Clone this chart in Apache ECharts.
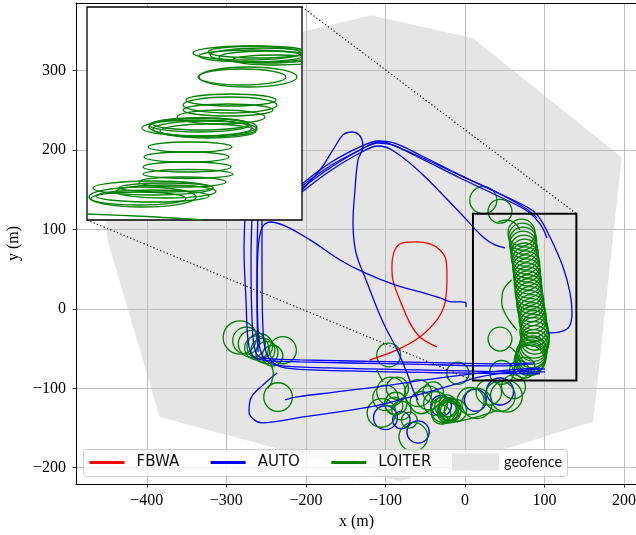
<!DOCTYPE html>
<html><head><meta charset="utf-8">
<script src="https://cdn.jsdelivr.net/npm/echarts@6/dist/echarts.min.js"></script>
<style>html,body{margin:0;padding:0;background:#fff}#c{width:636px;height:535px}</style>
</head><body><div id="c"></div><script>
// ---------- data ----------
const xTicks = [-400, -300, -200, -100, 0, 100, 200];
const yTicks = [-200, -100, 0, 100, 200, 300];
const xRange = [-489, 216.2];
const yRange = [-220.5, 385.3];
const geofence = [[-118,370],[10,341],[197,191],[161,-142],[-82,-217],[-384,-136],[-450,89],[-460,288]];
const zoomRect = [10, -90, 140, 120]; // x0, y0, x1, y1
const fbwa = [[-119.6,-64.2],[-85.6,-51.6],[-56.7,-35.3],[-35.3,-13.9],[-25.2,7.6],[-22.7,40.3],[-23.9,61.7],[-31.5,74.3],[-44.1,81.9],[-60.5,84.4],[-78.1,83.1],[-88.2,74.3],[-91.9,52.9],[-90.7,36.5],[-81.9,11.3],[-69.3,-17.6],[-56.7,-35.3],[-35.3,-47.9]];
const autoA1 = [[-260.2,-54.1],[-261.5,11.3],[-260.2,74.3],[-255.2,102],[-245.1,109.5],[-226.3,104.5],[-194.8,86.9],[-157.1,61.7],[-125.7,45.3],[-88,30.2],[-56.6,21.4],[-31.4,13.8],[-16.3,8.8],[-3.8,8.8],[1.3,7.6],[1.3,2.5]];
const autoV1 = [[-276.5,118.3],[-277.8,74.3],[-275.3,11.3],[-272.8,-39],[-267.7,-57.9],[-255.2,-64.2],[-207.4,-66.7],[-81.7,-69.2],[44,-71.8],[81.7,-69.2]];
const autoV2 = [[-267.7,118.3],[-269,61.7],[-267.7,-13.8],[-264,-51.6],[-255.2,-61.7],[-207.4,-64.2],[-81.7,-66.7],[44,-69.2],[88,-68]];
const autoV3 = [[-260.2,118.3],[-261.5,61.7],[-260.2,-26.4],[-255.2,-57.9],[-238.8,-70.5],[-169.7,-74.3],[-56.6,-76.8],[69.1,-79.3],[100.6,-79.3]];
const autoV4 = [[-255.2,118.3],[-255.2,49.1],[-253.9,-26.4],[-247.6,-60.4],[-226.3,-74.3],[-144.6,-78.1],[-18.9,-80.6],[94.3,-81.8]];
const autoL1 = [[-236.3,-80.6],[-255.2,-96.9],[-269,-112],[-271.5,-129.7],[-255.2,-143.5],[-203.6,-136],[-119.4,-123.4],[-72.9,-112],[-15.1,-95.7],[18.9,-85.6],[69.1,-78.1],[100.6,-75.5]];
const autoL2 = [[-226.3,-114.6],[-211.2,-110.8],[-160.9,-104.5],[-110.6,-98.2],[-31.4,-86.9],[44,-78.1],[94.3,-74.3]];
const autoT1 = [[-204.9,149.8],[-182.3,175],[-166,200.2],[-153.4,219.1],[-142,222.8],[-132,217.8],[-128.2,204],[-134.5,187.6],[-138.3,149.8],[-140.8,109.5],[-137,70.5],[-124.4,36.5],[-104.3,-13.9],[-84.2,-54.1],[-72.9,-80.6],[-65.4,-102],[-59.1,-114.6]];
const autoT2 = [[-204.9,154.9],[-169.7,180],[-132,200.2],[-109.4,209],[-91.8,206.5],[-56.6,190.1],[-6.3,164.9],[44,141],[77.9,123.4],[94.3,107],[103.1,89.4]];
const autoT2b = [[-204.9,157.4],[-169.7,183.8],[-132,204],[-109.4,211.5],[-89.3,209],[-56.6,193.9],[-6.3,168.7],[44,144.8],[75.4,127.2],[90.5,114.6]];
const autoT3 = [[-204.9,147.3],[-169.7,173.7],[-132,196.4],[-109.4,205.2],[-91.8,200.2],[-56.6,172.5],[-2.5,117.1],[22.6,90.6],[37.7,80.6],[50.3,76.8]];
const autoT4 = [[-204.9,152.3],[-169.7,177.5],[-132,200.2],[-106.8,210.3],[-81.7,202.7],[6.3,162.4],[77.9,128.4],[91.8,117.1],[106.8,90.6],[123.2,52.9],[132,20.1],[134.5,-5],[130.7,-22.7],[119.4,-29],[104.3,-30.2]];
const autoLoops = [[-100,-137,15],[-59,-155,14],[-30,-122,13],[13,-115,14],[44,-104,17],[-80,-140,11]];
const loiterS1 = [[-246,-66],[-241,-80],[-243,-92],[-248,-100]];
const loiterS2 = [[-111,-77],[-103,-92]];
const loiterS3 = [[58.7,36.5],[48.2,23.9],[46.1,7.6],[52.4,-9.4],[65,-26.4]];
const loiterS4 = [[55,-47],[65,-56],[71,-72]];
const loiterS5 = [[41.9,109.9],[52.4,112],[62.9,107.9],[69.1,99.5]];
const loiterS6 = [[-30,-145],[-10,-142],[15,-136],[40,-128]];
const loiterLoops = [
  [-283,-36,21],[-275,-40,17],[-268,-44,17],[-262,-49,15],[-258,-47,16],[-254,-52,15],[-229,-52,17],[-242,-59,13],[-249,-55,14],[-235,-111,18],
  [-96,-58,15],
  [-93,-104,18],[-100,-112,16],[-105,-131,18],[-87,-119,14],[-89,-122,11],[-80,-128,12],[-85,-100,14],[-65,-161,18],[-70,-140,10],
  [-59,-106,17],[-55,-118,14],[-46,-112,15],[-40,-105,13],[-37,-119,15],[-30,-133,12],
  [-27,-127,16],[-24,-122,14],[-21,-128,13],[-19,-126,14],[-22,-130,13],[-20,-124,12],[-18,-129,13],[-12,-128,14],
  [-9,-81,14],[7,-116,17],[15,-119,19],[30,-105,16],
  [44,-110,19],[52,-110,20],[61,-98,15],[46,-80,15],[68,-77,12],[75,-74,13],
  [23,137,17],[44,123,15],[44,-38,15],
  [71,96,17],[72,91,17],[73,86,17],[73,81,17],[74,76,17],[75,71,17],[75,66,17],[76,61,17],[77,56,17],[77,51,17],
  [78,46,17],[78,41,17],[79,36,17],[79,31,17],[80,26,17],[80,21,17],[81,16,17],[82,11,17],[82,6,17],[83,1,17],
  [84,-4,17],[85,-9,17],[85,-14,17],[86,-19,17],[87,-24,17],[87,-29,18],[88,-34,18],[88,-39,18],[87,-44,18],
  [86,-48,18],[85,-52,18],[84,-55,19],[83,-58,19],[83,-61,19],[82,-63,19],[81,-65,19]
];
// inset (own unit space) ellipses: cx, cy, rx, ry
const insetLoops = [
  [160,167,54,7],[164,164,52,6],[171,168,50,6],[180,163,48,6],[190,160,45,5],[176,165,53,7],
  [161,143,49,10],[155,143,44,8],
  [144,120,45,6],[141,110,45,6],[143,115,47,8],[134,103,44,7],
  [116,93,54,9],[118,91,52,8],[112,95,50,7],[121,89,48,7],[110,92,55,8],[114,96,48,6],
  [103,73,42,5],[99.5,63,42.5,5],[100,53,44,5],[101,46,45,4.5],[95.5,38,43.5,5],
  [66,32,60,7],[55.5,23,53.5,10],[79,28.5,50,6.5],[65.5,24,56.5,6],[51.5,21.5,47.5,6.5],[79,32.5,47,4.5]
];
const insetTrail = [[0,6],[60,3.5],[116,0]];

// ---------- layout ----------
const mainGrid = {left: 76, top: 3, right: -1, bottom: 51};
const insetBox = {left: 87, top: 7, width: 215, height: 213};
const RED = '#ff0000', BLUE = '#0000ff', GREEN = '#008000', FENCE = '#e5e5e5';
const LW = 1.3;
const fmt = v => (v < 0 ? '\u2212' + (-v) : '' + v);
const serif = 'Liberation Serif';

function lineSeries(name, data, color) {
  return {type: 'line', name, data, xAxisIndex: 0, yAxisIndex: 0, smooth: 0.35, showSymbol: false,
    symbol: 'none', lineStyle: {color, width: LW}, itemStyle: {color}, z: 5, silent: true, clip: true};
}
function loopSeries(name, data, color, z) {
  return {type: 'custom', name, data, xAxisIndex: 0, yAxisIndex: 0, coordinateSystem: 'cartesian2d',
    clip: true, z, silent: true, itemStyle: {color}, encode: {x: 0, y: 1},
    renderItem(params, api) {
      const c = api.coord([api.value(0), api.value(1)]);
      const s = api.size([api.value(2), api.value(2)]);
      return {type: 'circle', shape: {cx: c[0], cy: c[1], r: s[0]},
        style: {fill: 'none', stroke: color, lineWidth: LW}};
    }};
}

const autoPaths = [autoA1, autoV1, autoV2, autoV3, autoV4, autoL1, autoL2, autoT1, autoT2, autoT2b, autoT3, autoT4];
const loiterPaths = [loiterS1, loiterS2, loiterS3, loiterS4, loiterS5, loiterS6];

const series = [];
series.push({type: 'custom', name: 'geofence', data: geofence, xAxisIndex: 0, yAxisIndex: 0,
  coordinateSystem: 'cartesian2d', clip: true, z: 1, silent: true, itemStyle: {color: FENCE}, encode: {x: 0, y: 1},
  renderItem(params, api) {
    if (params.dataIndex !== 0) return null;
    const pts = geofence.map(p => api.coord(p));
    return {type: 'polygon', shape: {points: pts}, style: {fill: FENCE, stroke: 'none'}};
  }});
series.push(lineSeries('FBWA', fbwa, RED));
autoPaths.forEach(p => series.push(lineSeries('AUTO', p, BLUE)));
loiterPaths.forEach(p => series.push(lineSeries('LOITER', p, GREEN)));
series.push(loopSeries('AUTO', autoLoops, BLUE, 5));
series.push(loopSeries('LOITER', loiterLoops, GREEN, 5));
series.push({type: 'custom', name: 'zoom', data: [zoomRect], xAxisIndex: 0, yAxisIndex: 0,
  coordinateSystem: 'cartesian2d', z: 6, silent: true, encode: {x: [0, 2], y: [1, 3]},
  renderItem(params, api) {
    const a = api.coord([api.value(0), api.value(1)]);
    const b = api.coord([api.value(2), api.value(3)]);
    return {type: 'rect', shape: {x: Math.min(a[0], b[0]), y: Math.min(a[1], b[1]),
      width: Math.abs(b[0] - a[0]), height: Math.abs(b[1] - a[1])},
      style: {fill: 'none', stroke: '#000', lineWidth: 2}};
  }});
series.push({type: 'custom', name: 'LOITER', data: insetLoops, xAxisIndex: 1, yAxisIndex: 1,
  coordinateSystem: 'cartesian2d', clip: true, z: 11, silent: true, itemStyle: {color: GREEN}, encode: {x: 0, y: 1},
  renderItem(params, api) {
    const c = api.coord([api.value(0), api.value(1)]);
    const s = api.size([api.value(2), api.value(3)]);
    return {type: 'ellipse', shape: {cx: c[0], cy: c[1], rx: s[0], ry: s[1]},
      style: {fill: 'none', stroke: GREEN, lineWidth: LW}};
  }});
series.push({type: 'line', name: 'LOITER', data: insetTrail, xAxisIndex: 1, yAxisIndex: 1, smooth: 0.3,
  showSymbol: false, symbol: 'none', lineStyle: {color: GREEN, width: LW}, z: 11, silent: true, clip: true});

const chart = echarts.init(document.getElementById('c'), null, {renderer: 'canvas'});
const option = {
  animation: false,
  backgroundColor: '#fff',
  grid: [
    Object.assign({show: false, containLabel: false, outerBoundsMode: 'none'}, mainGrid),
    Object.assign({show: true, borderColor: '#000', borderWidth: 1.3, backgroundColor: '#fff', z: 10,
      containLabel: false, outerBoundsMode: 'none'}, insetBox)
  ],
  xAxis: [
    {type: 'value', gridIndex: 0, min: xRange[0], max: xRange[1], z: 3,
      name: 'x (m)', nameLocation: 'middle', nameGap: 21,
      nameTextStyle: {fontFamily: serif, fontSize: 16, color: '#000'},
      axisLine: {show: true, onZero: false, lineStyle: {color: '#000', width: 1}},
      axisTick: {show: true, length: 3.5, lineStyle: {color: '#000', width: 0.8}, customValues: xTicks},
      axisLabel: {customValues: xTicks, formatter: fmt, fontFamily: serif, fontSize: 16, color: '#000', margin: 9},
      splitLine: {show: true, lineStyle: {color: '#bdbdbd', width: 1}}},
    {type: 'value', gridIndex: 1, min: 0, max: insetBox.width, show: false},
    {type: 'value', gridIndex: 0, position: 'top', min: xRange[0], max: xRange[1], z: 3,
      axisLine: {show: true, onZero: false, lineStyle: {color: '#000', width: 1}},
      axisTick: {show: false}, axisLabel: {show: false}, splitLine: {show: false}}
  ],
  yAxis: [
    {type: 'value', gridIndex: 0, min: yRange[0], max: yRange[1], z: 3,
      name: 'y (m)', nameLocation: 'middle', nameGap: 53, nameRotate: 90,
      nameTextStyle: {fontFamily: serif, fontSize: 16, color: '#000'},
      axisLine: {show: true, onZero: false, lineStyle: {color: '#000', width: 1}},
      axisTick: {show: true, length: 3.5, lineStyle: {color: '#000', width: 0.8}, customValues: yTicks},
      axisLabel: {customValues: yTicks, formatter: fmt, fontFamily: serif, fontSize: 16, color: '#000', margin: 10},
      splitLine: {show: true, lineStyle: {color: '#bdbdbd', width: 1}}},
    {type: 'value', gridIndex: 1, min: 0, max: insetBox.height, show: false}
  ],
  legend: [
    {data: [{name: 'FBWA'}, {name: 'AUTO'}, {name: 'LOITER'}], left: 88, top: 453.5, padding: 0,
      itemWidth: 35, itemHeight: 3, itemGap: 30, z: 60, selectedMode: false,
      lineStyle: {width: 3}, itemStyle: {opacity: 0},
      textStyle: {fontFamily: 'DejaVu Sans', fontSize: 15, color: '#111', padding: [0, 0, 0, 7], lineHeight: 18}},
    {data: [{name: 'geofence', icon: 'rect'}], left: 452, top: 453.5, padding: 0,
      itemWidth: 47, itemHeight: 17, z: 60, selectedMode: false,
      textStyle: {fontFamily: 'Lato', fontSize: 14.5, color: '#111', lineHeight: 17}}
  ],
  graphic: [
    {type: 'rect', id: 'legendFrame', shape: {x: 83.5, y: 449.5, width: 484, height: 27, r: 3},
      style: {fill: 'rgba(255,255,255,0.8)', stroke: '#cccccc', lineWidth: 1}, z: 50, silent: true}
  ],
  series
};
chart.setOption(option);

// dotted connectors from inset corners to the zoom rectangle corners
const tr = chart.convertToPixel({xAxisIndex: 0, yAxisIndex: 0}, [zoomRect[2], zoomRect[3]]);
const bl = chart.convertToPixel({xAxisIndex: 0, yAxisIndex: 0}, [zoomRect[0], zoomRect[1]]);
const insetTR = [insetBox.left + insetBox.width, insetBox.top];
const insetBL = [insetBox.left, insetBox.top + insetBox.height];
chart.setOption({graphic: [
  {type: 'line', id: 'c1', shape: {x1: insetTR[0], y1: insetTR[1], x2: tr[0], y2: tr[1]},
    style: {stroke: '#000', lineWidth: 1.2, lineDash: [1.2, 2.4]}, z: 6, silent: true},
  {type: 'line', id: 'c2', shape: {x1: insetBL[0], y1: insetBL[1], x2: bl[0], y2: bl[1]},
    style: {stroke: '#000', lineWidth: 1.2, lineDash: [1.2, 2.4]}, z: 6, silent: true}
]});
</script></body></html>
